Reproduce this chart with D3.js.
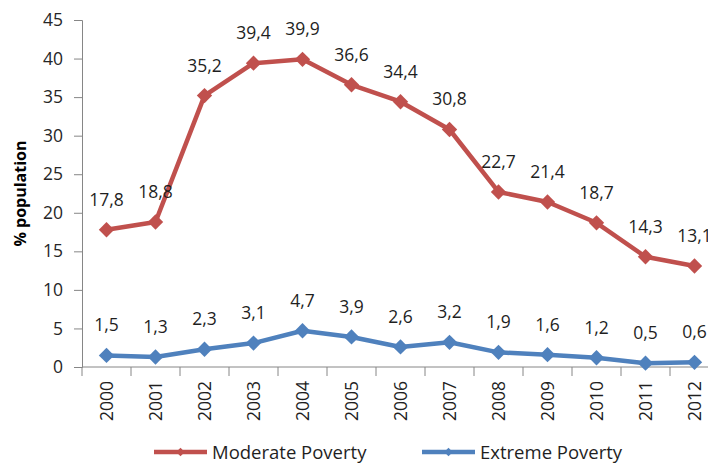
<!DOCTYPE html>
<html>
<head>
<meta charset="utf-8">
<script src="https://cdn.jsdelivr.net/npm/d3@7"></script>
<style>
  body { margin: 0; background: #fff; }
  svg text { font-family: "Open Sans", "Liberation Sans", sans-serif; fill: #262626; }
</style>
</head>
<body>
<svg id="chart" width="708" height="463"></svg>
<script>
var years = ["2000","2001","2002","2003","2004","2005","2006","2007","2008","2009","2010","2011","2012"]
var moderate = [17.8, 18.8, 35.2, 39.4, 39.9, 36.6, 34.4, 30.8, 22.7, 21.4, 18.7, 14.3, 13.1]
var extreme = [1.5, 1.3, 2.3, 3.1, 4.7, 3.9, 2.6, 3.2, 1.9, 1.6, 1.2, 0.5, 0.6]
var seriesNames = ["Moderate Poverty", "Extreme Poverty"]
var seriesColors = ["#C0504D", "#4F81BD"]
var yTicks = [0, 5, 10, 15, 20, 25, 30, 35, 40, 45]

var margin = { top: 20, left: 82, bottom: 96 }
var plot_w = 13 * 49
var plot_h = 463 - margin.top - margin.bottom

var svg = d3.select("#chart")
var g = svg.append("g").attr("transform", "translate(" + margin.left + "," + margin.top + ")")

var xScale = d3.scaleBand().domain(years).range([0, plot_w])
var yScale = d3.scaleLinear().domain([0, 45]).range([plot_h, 0])
var fmt = v => v.toFixed(1).replace(".", ",")
var axisColor = "#868686"
var textColor = "#1f1f1f"

// y axis
var yAxis = g.append("g").call(d3.axisLeft(yScale).tickValues(yTicks).tickSize(8).tickPadding(11))
yAxis.select(".domain").attr("stroke", axisColor)
yAxis.selectAll(".tick line").attr("stroke", axisColor)
yAxis.selectAll(".tick text").attr("font-size", 17.5).style("font-family", "'Open Sans'").attr("fill", textColor)

// x axis, ticks between the categories
var xAxis = g.append("g").attr("transform", "translate(0," + plot_h + ")")
xAxis.append("line").attr("x1", 0).attr("x2", plot_w).attr("stroke", axisColor)
xAxis.selectAll(".xtick").data(d3.range(years.length + 1)).join("line").attr("class", "xtick")
    .attr("x1", i => i * xScale.step()).attr("x2", i => i * xScale.step())
    .attr("y1", 0).attr("y2", 9).attr("stroke", axisColor)
xAxis.selectAll(".xlab").data(years).join("text").attr("class", "xlab")
    .attr("transform", d => "translate(" + (xScale(d) + xScale.bandwidth() / 2 + 6) + ",14) rotate(-90)")
    .attr("text-anchor", "end").attr("font-size", 17.5).style("fill", textColor).text(d => d)

// y label
svg.append("text").attr("transform", "translate(26," + (margin.top + plot_h / 2) + ") rotate(-90)")
    .attr("text-anchor", "middle").attr("font-size", 16).attr("font-weight", "bold").style("fill", "#000").text("% population")

var line = d3.line().x((d, i) => xScale(years[i]) + xScale.bandwidth() / 2).y(d => yScale(d))
var diamond = d3.symbol().type(d3.symbolDiamond2)

;[moderate, extreme].forEach((values, k) => {
    var sg = g.append("g")
    sg.append("path").datum(values).attr("d", line).attr("fill", "none")
        .attr("stroke", seriesColors[k]).attr("stroke-width", 4.5).attr("stroke-linejoin", "round")
    sg.selectAll(".mark").data(values).join("path").attr("class", "mark")
        .attr("d", diamond.size(150))
        .attr("transform", (d, i) => "translate(" + (xScale(years[i]) + xScale.bandwidth() / 2) + "," + yScale(d) + ")")
        .attr("fill", seriesColors[k])
    sg.selectAll(".lab").data(values).join("text").attr("class", "lab")
        .attr("x", (d, i) => xScale(years[i]) + xScale.bandwidth() / 2)
        .attr("y", d => yScale(d) - 24)
        .attr("text-anchor", "middle").attr("font-size", 17.5).style("fill", textColor).text(d => fmt(d))
})

// legend
var legendX = [154, 422]
seriesNames.forEach((name, k) => {
    var lg = svg.append("g").attr("transform", "translate(" + legendX[k] + ",452)")
    lg.append("line").attr("x1", 0).attr("x2", 53).attr("stroke", seriesColors[k]).attr("stroke-width", 4.5)
    lg.append("path").attr("d", diamond.size(45)).attr("transform", "translate(26.5,0)").attr("fill", seriesColors[k])
    lg.append("text").attr("x", 58).attr("y", 6.5).attr("font-size", 18.5).style("fill", textColor).text(name)
})
</script>
</body>
</html>
